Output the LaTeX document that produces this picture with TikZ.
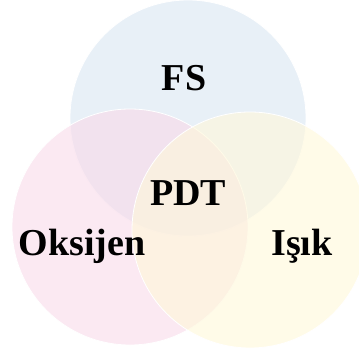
\documentclass[tikz,border=0pt]{standalone}
\usepackage{fontspec}
\setmainfont{Liberation Serif}
\usepackage{tikz}
\usetikzlibrary{positioning}

\definecolor{fsblue}{RGB}{217,230,242}
\definecolor{oxpink}{RGB}{248,218,233}
\definecolor{lightyellow}{RGB}{255,248,217}

\begin{document}
\begin{tikzpicture}[x=1pt,y=-1pt,
               set/.style={circle,draw=white,line width=0.8pt,fill opacity=0.6,
                           minimum size=236pt,inner sep=0pt},
               label node/.style={anchor=base,inner sep=0pt,
                           font=\fontsize{38}{40}\selectfont\bfseries}]
  \useasboundingbox (0,0) rectangle (359,356);
  \clip (0,0) rectangle (359,356);

  % the three sets
  \node[set, fill=fsblue] (fs) at (188,118) {};
  \node[set, fill=oxpink] (ox) at (130,227) {};
  \node[set, fill=lightyellow] (light) at (250,230) {};

  % labels
  \node[label node] (fslabel) at (184,90) {FS};
  \node[label node] (pdt) at (188,205) {PDT};
  \node[label node] (oxlabel) at (82,255) {Oksijen};
  \node[label node] (lightlabel) at (302,255) {Işık};
\end{tikzpicture}
\end{document}
